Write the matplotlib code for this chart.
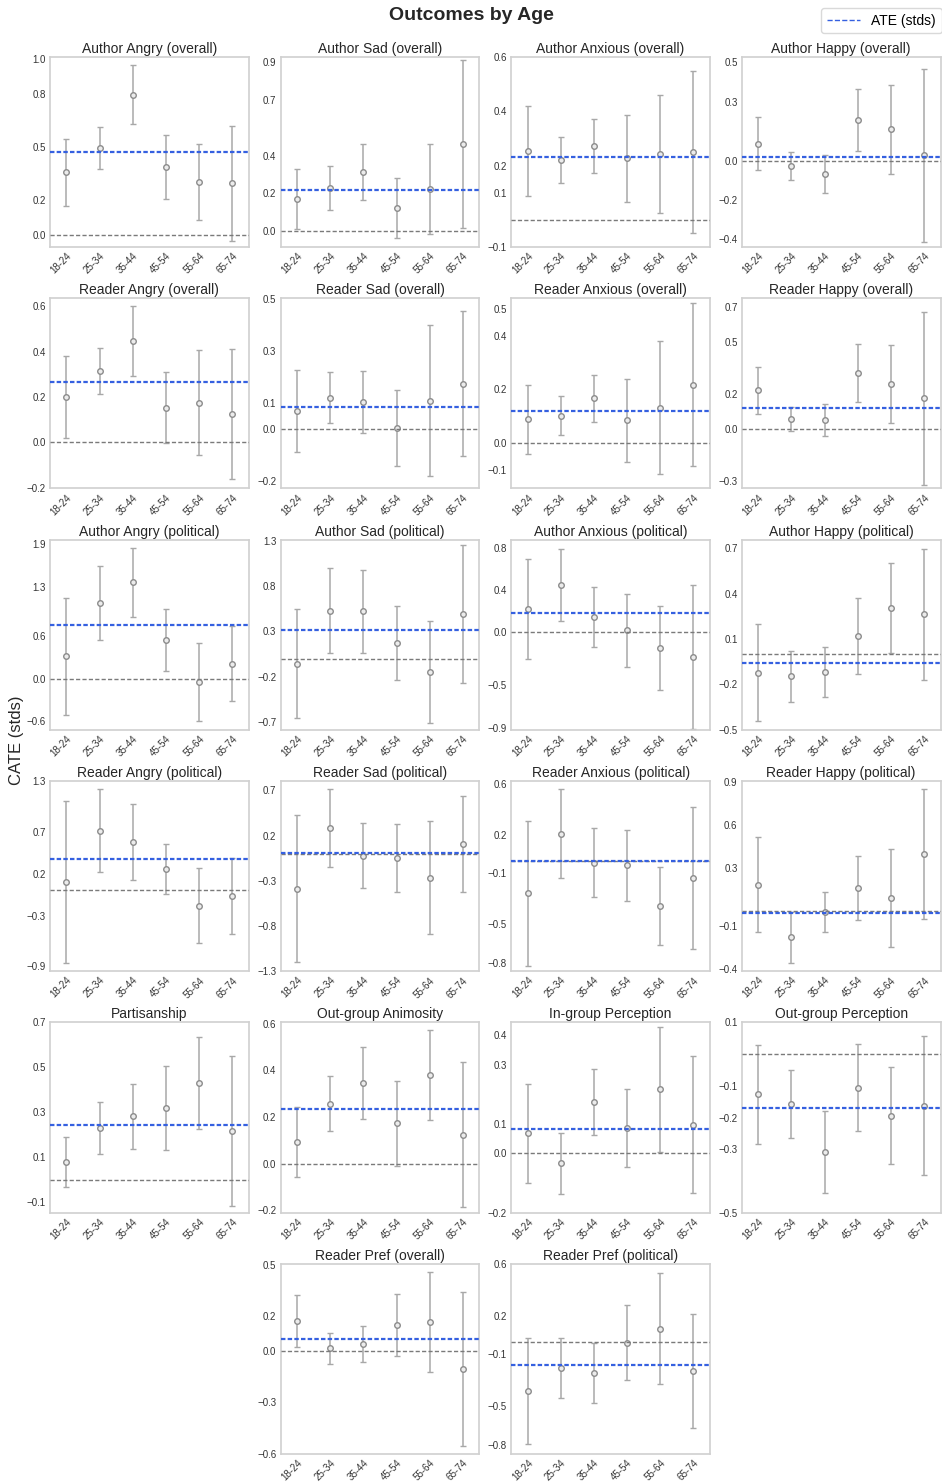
import numpy as np
import matplotlib
matplotlib.use("Agg")
import matplotlib.pyplot as plt
from matplotlib.lines import Line2D

plt.rcParams['font.family'] = ['Liberation Sans', 'DejaVu Sans']

age_groups = ["18-24", "25-34", "35-44", "45-54", "55-64", "65-74"]

titles = [
    "Author Angry (overall)", "Author Sad (overall)", "Author Anxious (overall)", "Author Happy (overall)",
    "Reader Angry (overall)", "Reader Sad (overall)", "Reader Anxious (overall)", "Reader Happy (overall)",
    "Author Angry (political)", "Author Sad (political)", "Author Anxious (political)", "Author Happy (political)",
    "Reader Angry (political)", "Reader Sad (political)", "Reader Anxious (political)", "Reader Happy (political)",
    "Partisanship", "Out-group Animosity", "In-group Perception", "Out-group Perception",
    "Reader Pref (overall)", "Reader Pref (political)",
]

# CATE estimates (stds) and CI half-widths per age group
author_angry_overall = [0.358, 0.498, 0.799, 0.388, 0.305, 0.295]
author_angry_overall_ci = [0.19, 0.12, 0.167, 0.18, 0.215, 0.325]
author_sad_overall = [0.169, 0.229, 0.314, 0.122, 0.224, 0.463]
author_sad_overall_ci = [0.16, 0.115, 0.148, 0.158, 0.239, 0.446]
author_anxious_overall = [0.253, 0.221, 0.272, 0.226, 0.244, 0.250]
author_anxious_overall_ci = [0.165, 0.086, 0.10, 0.159, 0.217, 0.30]
author_happy_overall = [0.086, -0.027, -0.068, 0.208, 0.159, 0.027]
author_happy_overall_ci = [0.134, 0.072, 0.097, 0.157, 0.226, 0.438]
reader_angry_overall = [0.201, 0.315, 0.447, 0.153, 0.175, 0.124]
reader_angry_overall_ci = [0.18, 0.101, 0.153, 0.157, 0.23, 0.287]
reader_sad_overall = [0.069, 0.121, 0.104, 0.003, 0.110, 0.174]
reader_sad_overall_ci = [0.157, 0.099, 0.12, 0.146, 0.292, 0.279]
reader_anxious_overall = [0.090, 0.103, 0.167, 0.085, 0.133, 0.218]
reader_anxious_overall_ci = [0.128, 0.072, 0.086, 0.154, 0.245, 0.303]
reader_happy_overall = [0.220, 0.055, 0.050, 0.319, 0.258, 0.174]
reader_happy_overall_ci = [0.133, 0.068, 0.092, 0.165, 0.224, 0.495]
author_angry_political = [0.320, 1.073, 1.361, 0.551, -0.052, 0.212]
author_angry_political_ci = [0.827, 0.525, 0.483, 0.44, 0.55, 0.53]
author_sad_political = [-0.055, 0.528, 0.521, 0.176, -0.147, 0.492]
author_sad_political_ci = [0.60, 0.47, 0.457, 0.405, 0.557, 0.763]
author_anxious_political = [0.220, 0.444, 0.145, 0.019, -0.145, -0.230]
author_anxious_political_ci = [0.475, 0.34, 0.282, 0.345, 0.395, 0.677]
author_happy_political = [-0.122, -0.146, -0.115, 0.122, 0.307, 0.265]
author_happy_political_ci = [0.323, 0.17, 0.166, 0.253, 0.298, 0.433]
reader_angry_political = [0.099, 0.712, 0.573, 0.255, -0.179, -0.068]
reader_angry_political_ci = [0.96, 0.493, 0.45, 0.295, 0.45, 0.45]
reader_sad_political = [-0.385, 0.285, -0.022, -0.044, -0.267, 0.104]
reader_sad_political_ci = [0.81, 0.437, 0.36, 0.378, 0.627, 0.533]
reader_anxious_political = [-0.255, 0.211, -0.016, -0.037, -0.355, -0.132]
reader_anxious_political_ci = [0.57, 0.35, 0.27, 0.28, 0.304, 0.558]
reader_happy_political = [0.184, -0.181, -0.005, 0.161, 0.092, 0.397]
reader_happy_political_ci = [0.33, 0.176, 0.14, 0.22, 0.342, 0.45]
partisanship = [0.079, 0.230, 0.282, 0.318, 0.431, 0.217]
partisanship_ci = [0.113, 0.114, 0.146, 0.187, 0.206, 0.336]
outgroup_animosity = [0.093, 0.258, 0.347, 0.173, 0.381, 0.125]
outgroup_animosity_ci = [0.151, 0.117, 0.154, 0.183, 0.192, 0.31]
ingroup_perception = [0.068, -0.033, 0.173, 0.086, 0.217, 0.097]
ingroup_perception_ci = [0.167, 0.103, 0.111, 0.133, 0.212, 0.231]
outgroup_perception = [-0.127, -0.158, -0.309, -0.106, -0.194, -0.163]
outgroup_perception_ci = [0.156, 0.108, 0.13, 0.137, 0.152, 0.22]
reader_pref_overall = [0.172, 0.014, 0.041, 0.151, 0.168, -0.106]
reader_pref_overall_ci = [0.152, 0.09, 0.106, 0.182, 0.292, 0.447]
reader_pref_political = [-0.385, -0.204, -0.243, -0.010, 0.101, -0.225]
reader_pref_political_ci = [0.41, 0.233, 0.23, 0.29, 0.433, 0.442]

# Average treatment effects (stds)
ate_values = [0.473, 0.218, 0.233, 0.020, 0.268, 0.086, 0.119, 0.120,
              0.758, 0.319, 0.183, -0.060, 0.374, 0.007, -0.005, -0.012,
              0.244, 0.235, 0.081, -0.171, 0.068, -0.183]

# y-axis tick labels per panel
yticks = [
    [0.0, 0.2, 0.5, 0.8, 1.0], [0.0, 0.2, 0.4, 0.7, 0.9], [-0.1, 0.1, 0.2, 0.4, 0.6], [-0.4, -0.2, 0.0, 0.3, 0.5],
    [-0.2, 0.0, 0.2, 0.4, 0.6], [-0.2, 0.0, 0.1, 0.3, 0.5], [-0.1, 0.0, 0.2, 0.4, 0.5], [-0.3, 0.0, 0.2, 0.5, 0.7],
    [-0.6, 0.0, 0.6, 1.3, 1.9], [-0.7, -0.2, 0.3, 0.8, 1.3], [-0.9, -0.5, 0.0, 0.4, 0.8], [-0.5, -0.2, 0.1, 0.4, 0.7],
    [-0.9, -0.3, 0.2, 0.7, 1.3], [-1.3, -0.8, -0.3, 0.2, 0.7], [-0.8, -0.5, -0.1, 0.2, 0.6], [-0.4, -0.1, 0.3, 0.6, 0.9],
    [-0.1, 0.1, 0.3, 0.5, 0.7], [-0.2, 0.0, 0.2, 0.4, 0.6], [-0.2, 0.0, 0.1, 0.3, 0.4], [-0.5, -0.3, -0.2, -0.1, 0.1],
    [-0.6, -0.3, 0.0, 0.2, 0.5], [-0.8, -0.5, -0.1, 0.2, 0.6],
]
ylims = [
    (-0.066, 1.013), (-0.085, 0.927), (-0.1, 0.6), (-0.439, 0.527),
    (-0.203, 0.635), (-0.228, 0.503), (-0.167, 0.538), (-0.342, 0.748),
    (-0.72, 1.963), (-0.782, 1.31), (-0.919, 0.875), (-0.5, 0.758),
    (-0.959, 1.30), (-1.30, 0.804), (-0.868, 0.626), (-0.417, 0.904),
    (-0.146, 0.70), (-0.209, 0.605), (-0.2, 0.443), (-0.5, 0.1),
    (-0.6, 0.506), (-0.871, 0.602),
]

means = [author_angry_overall, author_sad_overall, author_anxious_overall, author_happy_overall,
         reader_angry_overall, reader_sad_overall, reader_anxious_overall, reader_happy_overall,
         author_angry_political, author_sad_political, author_anxious_political, author_happy_political,
         reader_angry_political, reader_sad_political, reader_anxious_political, reader_happy_political,
         partisanship, outgroup_animosity, ingroup_perception, outgroup_perception,
         reader_pref_overall, reader_pref_political]
errs = [author_angry_overall_ci, author_sad_overall_ci, author_anxious_overall_ci, author_happy_overall_ci,
        reader_angry_overall_ci, reader_sad_overall_ci, reader_anxious_overall_ci, reader_happy_overall_ci,
        author_angry_political_ci, author_sad_political_ci, author_anxious_political_ci, author_happy_political_ci,
        reader_angry_political_ci, reader_sad_political_ci, reader_anxious_political_ci, reader_happy_political_ci,
        partisanship_ci, outgroup_animosity_ci, ingroup_perception_ci, outgroup_perception_ci,
        reader_pref_overall_ci, reader_pref_political_ci]

fig, axes = plt.subplots(6, 4, figsize=(9.42, 14.83), dpi=100)
fig.subplots_adjust(left=0.053, right=0.9985, top=0.9616, bottom=0.0196,
                    wspace=0.16, hspace=0.27)

slots = [(r, c) for r in range(5) for c in range(4)] + [(5, 1), (5, 2)]
axes[5, 0].remove()
axes[5, 3].remove()

blue = '#3560e0'
x = np.arange(len(age_groups))
for i, (r, c) in enumerate(slots):
    ax = axes[r, c]
    ax.set_facecolor('white')
    for sp in ax.spines.values():
        sp.set_color('#d0d0d0')
        sp.set_linewidth(1.2)
    ax.errorbar(x, means[i], yerr=errs[i], fmt='o', color='#8c8c8c', ecolor='#a8a8a8',
                mfc='#ececec', mec='#8c8c8c', ms=4, mew=1.0, elinewidth=1.1,
                capsize=2, capthick=1.0, zorder=2)
    ax.axhline(0, color='#7a7a7a', ls=(0, (3, 1.6)), lw=1.0, zorder=3)
    ax.axhline(ate_values[i], color=blue, ls=(0, (2, 1)), lw=1.6, zorder=4)
    ax.set_xlim(-0.5, len(age_groups) - 0.5)
    ax.set_ylim(*ylims[i])
    ax.set_yticks(yticks[i])
    ax.set_xticks(x)
    ax.set_xticklabels(age_groups, rotation=45, ha='right', rotation_mode='anchor')
    ax.tick_params(axis='both', length=0, labelsize=7, colors='#333333', pad=3)
    ax.set_title(titles[i], fontsize=10, color='#262626', pad=3)
    ax.grid(False)

fig.suptitle("Outcomes by Age", fontsize=14, fontweight='bold', color='#262626', y=0.9955)
fig.text(0.017, 0.501, "CATE (stds)", rotation=90, va='center', ha='center',
         fontsize=12, color='#262626')
handle = Line2D([], [], color=blue, ls='--', lw=1.0)
leg = fig.legend([handle], ["ATE (stds)"], loc='upper right', bbox_to_anchor=(0.9995, 0.9945),
                 fontsize=10, frameon=True, borderaxespad=0, handlelength=2.4)
leg.get_frame().set_edgecolor('#d0d0d0')

fig.savefig("out.png", dpi=100, facecolor='white')
